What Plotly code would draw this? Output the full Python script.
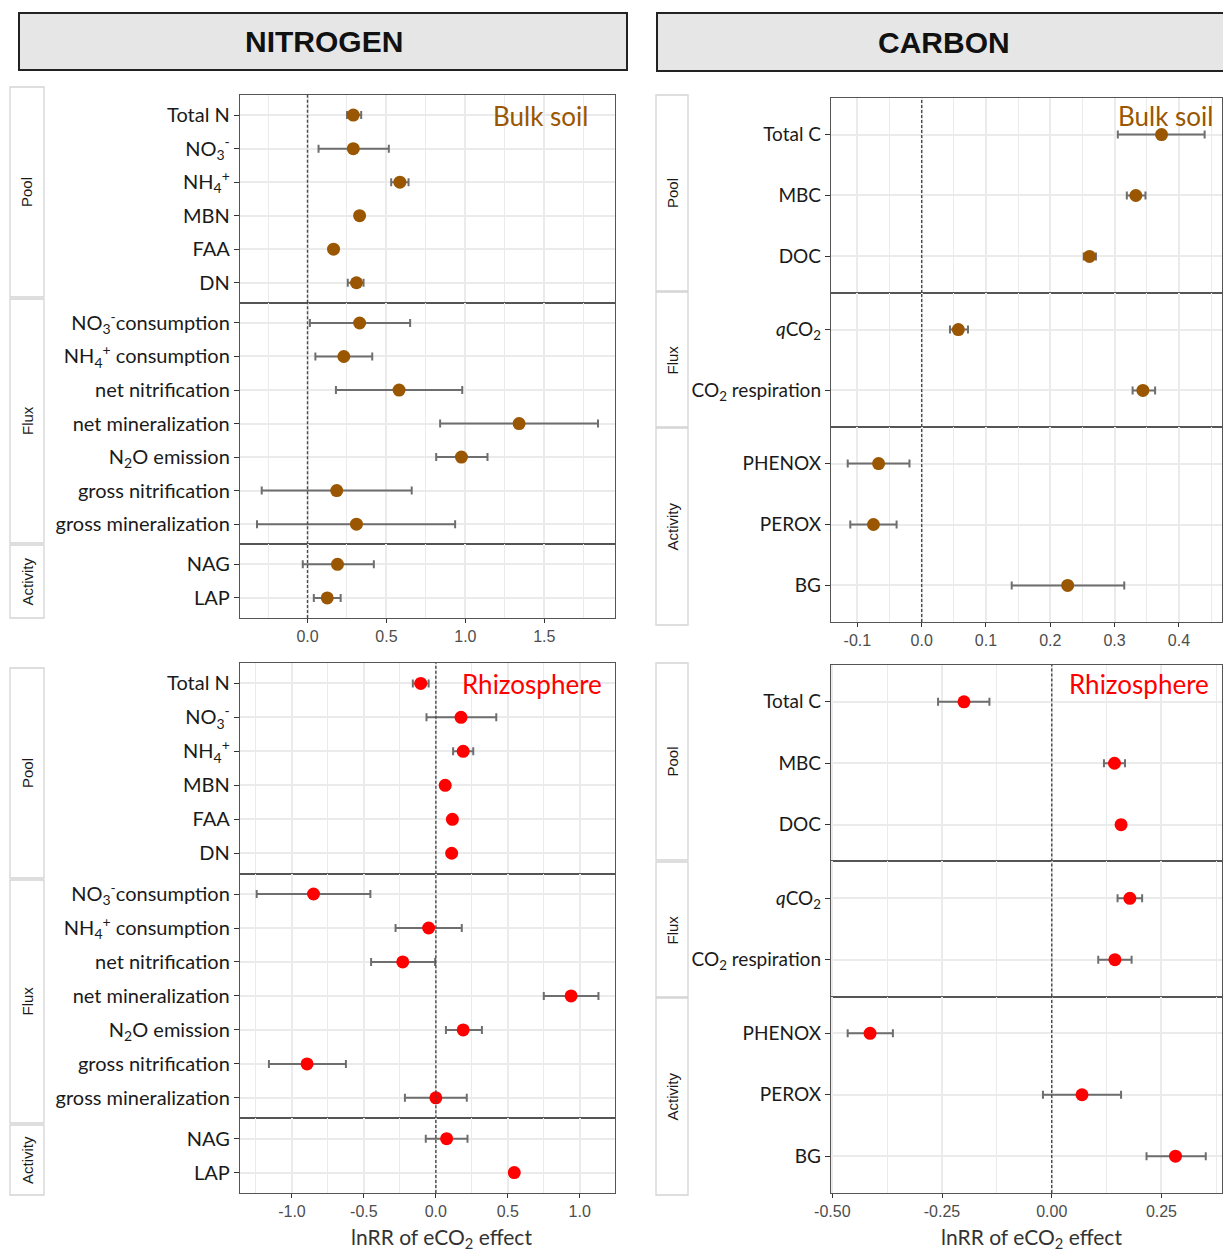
import plotly.graph_objects as go

W, H = 1223, 1251

# ---------------- data ----------------
GROUPS = ["Pool", "Flux", "Activity"]

N_GROUP = ["Pool"] * 6 + ["Flux"] * 7 + ["Activity"] * 2
N_LABEL = ["Total N", "NO<sub>3</sub><sup>-</sup>", "NH<sub>4</sub><sup>+</sup>", "MBN", "FAA", "DN",
           "NO<sub>3</sub><sup>-</sup>consumption", "NH<sub>4</sub><sup>+</sup> consumption",
           "net nitrification", "net mineralization", "N<sub>2</sub>O emission",
           "gross nitrification", "gross mineralization", "NAG", "LAP"]
N_BULK_MEAN = [0.29, 0.29, 0.585, 0.33, 0.165, 0.31, 0.33, 0.23, 0.58, 1.34, 0.975, 0.185, 0.31, 0.19, 0.125]
N_BULK_LO   = [0.25, 0.07, 0.53, 0.33, 0.165, 0.255, 0.015, 0.05, 0.18, 0.84, 0.815, -0.29, -0.32, -0.03, 0.04]
N_BULK_HI   = [0.34, 0.515, 0.64, 0.33, 0.165, 0.355, 0.65, 0.41, 0.98, 1.84, 1.14, 0.66, 0.935, 0.42, 0.21]
N_RHIZ_MEAN = [-0.105, 0.175, 0.19, 0.065, 0.115, 0.11, -0.85, -0.05, -0.23, 0.94, 0.19, -0.895, 0.0, 0.075, 0.545]
N_RHIZ_LO   = [-0.16, -0.065, 0.12, 0.065, 0.115, 0.11, -1.245, -0.28, -0.45, 0.75, 0.07, -1.16, -0.215, -0.07, 0.545]
N_RHIZ_HI   = [-0.05, 0.42, 0.26, 0.065, 0.115, 0.11, -0.455, 0.18, -0.005, 1.13, 0.32, -0.625, 0.215, 0.22, 0.545]

C_GROUP = ["Pool"] * 3 + ["Flux"] * 2 + ["Activity"] * 3
C_LABEL = ["Total C", "MBC", "DOC", "<i>q</i>CO<sub>2</sub>", "CO<sub>2</sub> respiration",
           "PHENOX", "PEROX", "BG"]
C_BULK_MEAN = [0.373, 0.333, 0.261, 0.057, 0.344, -0.067, -0.075, 0.227]
C_BULK_LO   = [0.305, 0.319, 0.252, 0.044, 0.328, -0.115, -0.111, 0.140]
C_BULK_HI   = [0.440, 0.348, 0.271, 0.072, 0.363, -0.019, -0.039, 0.315]
C_RHIZ_MEAN = [-0.200, 0.143, 0.158, 0.178, 0.144, -0.414, 0.069, 0.282]
C_RHIZ_LO   = [-0.259, 0.119, 0.158, 0.150, 0.106, -0.465, -0.020, 0.216]
C_RHIZ_HI   = [-0.142, 0.167, 0.158, 0.206, 0.182, -0.362, 0.158, 0.351]

TICKS_NB = [0.0, 0.5, 1.0, 1.5]
TICKTEXT_NB = ["0.0", "0.5", "1.0", "1.5"]
TICKS_NR = [-1.0, -0.5, 0.0, 0.5, 1.0]
TICKTEXT_NR = ["-1.0", "-0.5", "0.0", "0.5", "1.0"]
TICKS_CB = [-0.1, 0.0, 0.1, 0.2, 0.3, 0.4]
TICKTEXT_CB = ["-0.1", "0.0", "0.1", "0.2", "0.3", "0.4"]
TICKS_CR = [-0.5, -0.25, 0.0, 0.25]
TICKTEXT_CR = ["-0.50", "-0.25", "0.00", "0.25"]

REF_X = 0.0
XTITLE = "lnRR of eCO<sub>2</sub> effect"

BROWN = "#9A5600"
RED = "#FF0000"
ERR = "#6e6e6e"
GRID = "#ebebeb"
BORDER = "#555555"
LABEL_FONT = "Lato"
ARIAL = "Liberation Sans"


def xp(px):
    return px / W


def yp(py):
    return 1 - py / H


panels = [
    dict(group=N_GROUP, label=N_LABEL, mean=N_BULK_MEAN, lo=N_BULK_LO, hi=N_BULK_HI,
         color=BROWN, xpx=(240, 615), ypx=(95, 618), xr=(-0.4275, 1.9475),
         ticks=TICKS_NB, ticktext=TICKTEXT_NB, name="Bulk soil", name_pos=(590, 116),
         strip_x=(10, 44), strips=[(87, 297), (299, 543), (545, 618)], title=None, lsize=20),
    dict(group=N_GROUP, label=N_LABEL, mean=N_RHIZ_MEAN, lo=N_RHIZ_LO, hi=N_RHIZ_HI,
         color=RED, xpx=(240, 615), ypx=(663, 1193), xr=(-1.361, 1.245),
         ticks=TICKS_NR, ticktext=TICKTEXT_NR, name="Rhizosphere", name_pos=(604, 684),
         strip_x=(10, 44), strips=[(668, 878), (880, 1123), (1125, 1195)], title=(441, 1238), lsize=20),
    dict(group=C_GROUP, label=C_LABEL, mean=C_BULK_MEAN, lo=C_BULK_LO, hi=C_BULK_HI,
         color=BROWN, xpx=(831, 1222), ypx=(98, 622), xr=(-0.141, 0.467),
         ticks=TICKS_CB, ticktext=TICKTEXT_CB, name="Bulk soil", name_pos=(1215, 116),
         strip_x=(656, 688), strips=[(95, 291), (292, 427), (428, 625)], title=None, lsize=19),
    dict(group=C_GROUP, label=C_LABEL, mean=C_RHIZ_MEAN, lo=C_RHIZ_LO, hi=C_RHIZ_HI,
         color=RED, xpx=(831, 1222), ypx=(665, 1193), xr=(-0.503, 0.388),
         ticks=TICKS_CR, ticktext=TICKTEXT_CR, name="Rhizosphere", name_pos=(1211, 684),
         strip_x=(656, 688), strips=[(663, 860), (862, 997), (998, 1195)], title=(1031, 1238), lsize=19),
]

fig = go.Figure()
layout = {}
shapes = []
annotations = []

k = 0
for p in panels:
    counts = [p["group"].count(g) for g in GROUPS]
    total = sum(c + 0.2 for c in counts)
    top, bot = p["ypx"]
    unit = (bot - top) / total
    tv = p["ticks"]
    step = tv[1] - tv[0]
    minor = [tv[0] - step / 2] + [v + step / 2 for v in tv]
    minor = [m for m in minor if p["xr"][0] < m < p["xr"][1]]
    cur = top
    for gi, g in enumerate(GROUPS):
        k += 1
        idx = [i for i, gg in enumerate(p["group"]) if gg == g]
        h = (counts[gi] + 0.2) * unit
        f_top, f_bot = cur, cur + h
        cur = f_bot
        cats = [p["label"][i] for i in idx]
        xs = [p["mean"][i] for i in idx]
        ep = [p["hi"][i] - p["mean"][i] for i in idx]
        em = [p["mean"][i] - p["lo"][i] for i in idx]
        xa = "x" if k == 1 else f"x{k}"
        ya = "y" if k == 1 else f"y{k}"
        fig.add_trace(go.Scatter(
            x=xs, y=cats, mode="markers", xaxis=xa, yaxis=ya, showlegend=False,
            marker=dict(size=13, color=p["color"]),
            error_x=dict(type="data", symmetric=False, array=ep, arrayminus=em,
                         color=ERR, thickness=2, width=4),
        ))
        is_bottom = gi == len(GROUPS) - 1
        xkey = "xaxis" if k == 1 else f"xaxis{k}"
        ykey = "yaxis" if k == 1 else f"yaxis{k}"
        layout[xkey] = dict(
            domain=[xp(p["xpx"][0]), xp(p["xpx"][1])], anchor=ya, range=list(p["xr"]),
            automargin=False,
            tickmode="array", tickvals=tv, ticktext=p["ticktext"],
            showticklabels=is_bottom, ticks="outside" if is_bottom else "",
            ticklen=4, tickcolor="#333333",
            tickfont=dict(family=ARIAL, size=16, color="#4d4d4d"),
            showgrid=True, gridcolor=GRID, gridwidth=1.5,
            minor=dict(tickmode="array", tickvals=minor, showgrid=True,
                       gridcolor=GRID, gridwidth=1.1, ticks=""),
            zeroline=False, showline=True, mirror=True, linecolor=BORDER, linewidth=1.4,
        )
        n = len(cats)
        layout[ykey] = dict(
            domain=[yp(f_bot), yp(f_top)], anchor=xa, type="category", automargin=False,
            categoryorder="array", categoryarray=cats, range=[n - 0.4, -0.6],
            ticks="outside", ticklen=5, tickcolor="#333333",
            tickfont=dict(family=LABEL_FONT, size=p["lsize"], color="#1a1a1a"),
            showgrid=True, gridcolor=GRID, gridwidth=1.5, zeroline=False,
            showline=True, mirror=True, linecolor=BORDER, linewidth=1.4,
        )
        shapes.append(dict(type="line", xref=xa, yref=f"{ya} domain", x0=REF_X, x1=REF_X,
                           y0=0, y1=1, line=dict(color="#4a4a4a", width=1.4, dash="3px,2px"),
                           layer="above"))
        # strip
        s0, s1 = p["strips"][gi]
        shapes.append(dict(type="rect", xref="paper", yref="paper",
                           x0=xp(p["strip_x"][0]), x1=xp(p["strip_x"][1]), y0=yp(s1), y1=yp(s0),
                           fillcolor="white", line=dict(color="#d4d4d4", width=1.3)))
        annotations.append(dict(text=g, xref="paper", yref="paper",
                                x=xp((p["strip_x"][0] + p["strip_x"][1]) / 2), y=yp((s0 + s1) / 2),
                                xanchor="center", yanchor="middle",
                                textangle=-90, showarrow=False,
                                font=dict(family=ARIAL, size=15, color="#1a1a1a")))
    annotations.append(dict(text=p["name"], xref="paper", yref="paper",
                            x=xp(p["name_pos"][0]), y=yp(p["name_pos"][1]),
                            xanchor="right", yanchor="middle", showarrow=False,
                            font=dict(family=LABEL_FONT, size=26, color=p["color"])))
    if p["title"]:
        annotations.append(dict(text=XTITLE, xref="paper", yref="paper",
                                x=xp(p["title"][0]), y=yp(p["title"][1]),
                                xanchor="center", yanchor="middle", showarrow=False,
                                font=dict(family=LABEL_FONT, size=21, color="#333333")))

# headers
for txt, x0, x1, y0, y1, cx in [("NITROGEN", 19, 627, 13, 70, 324), ("CARBON", 657, 1232, 13, 71, 944)]:
    shapes.append(dict(type="rect", xref="paper", yref="paper", x0=xp(x0), x1=xp(x1),
                       y0=yp(y1), y1=yp(y0), fillcolor="#e6e6e6",
                       line=dict(color="#222222", width=2)))
    annotations.append(dict(text=f"<b>{txt}</b>", xref="paper", yref="paper", x=xp(cx),
                            y=yp((y0 + y1) / 2), xanchor="center", yanchor="middle", showarrow=False,
                            font=dict(family=ARIAL, size=30, color="#111111")))

fig.update_layout(
    width=W, height=H, margin=dict(l=0, r=0, t=0, b=0, autoexpand=False),
    paper_bgcolor="white", plot_bgcolor="white",
    shapes=shapes, annotations=annotations, **layout,
)
fig.write_html("out.html")
